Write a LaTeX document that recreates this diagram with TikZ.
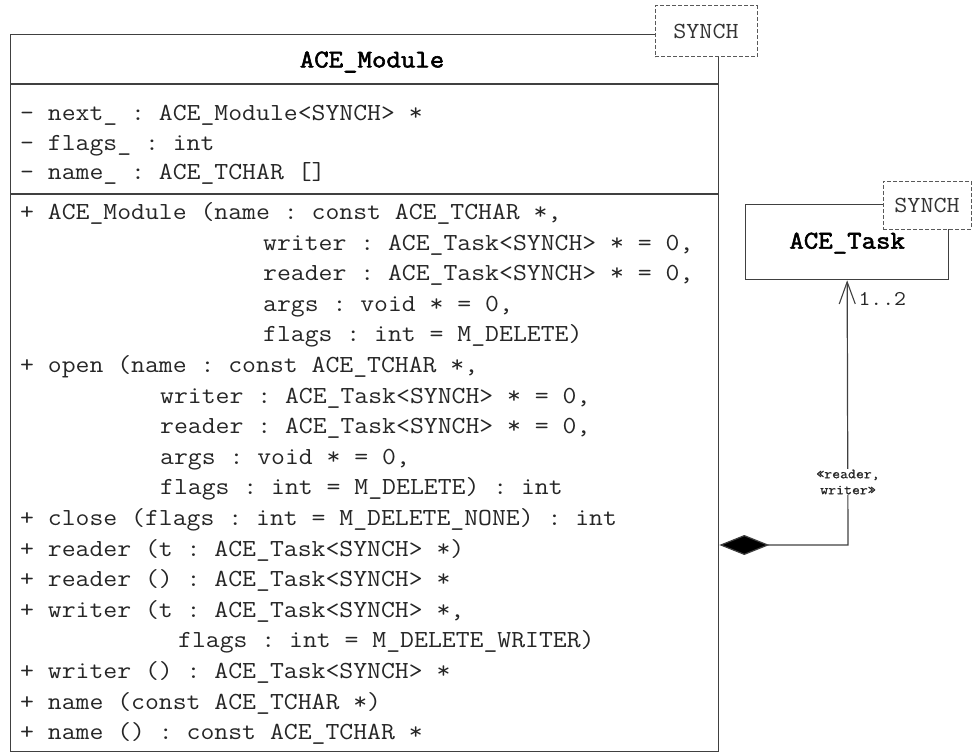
\documentclass[tikz,border=0pt]{standalone}
\usepackage{fontspec}
\setmonofont{Latin Modern Mono}[FakeStretch=1.1]
\newfontfamily\boldmono{Latin Modern Mono}[FakeStretch=1.1, FakeBold=2.2]
\newfontfamily\labelmono{Latin Modern Mono}[FakeStretch=1.1, FakeBold=0.8]
\usetikzlibrary{arrows.meta}
\begin{document}
\begin{tikzpicture}[x=1pt,y=-1pt,
  classbox/.style={draw=black!75, line width=1.3pt, fill=white, inner sep=0pt, anchor=north west},
  tparam/.style={draw=black!65, dashed, dash pattern=on 4pt off 2pt, line width=1pt, fill=white,
    inner sep=0pt, font=\ttfamily\fontsize{23}{23}\selectfont, text=black!80},
  member/.style={font=\ttfamily\fontsize{24.5}{24.5}\selectfont, anchor=base west, inner sep=0pt, text=black!85},
  title/.style={font=\boldmono\fontsize{25.5}{25.5}\selectfont, text=black},
  assoc/.style={draw=black!75, line width=1.2pt},
  smalllabel/.style={font=\labelmono\fontsize{14}{16}\selectfont, align=center, fill=white, inner sep=1pt, text=black!85}]
\useasboundingbox (0,0) rectangle (973,754);

% ACE_Module class with its three compartments
\node[classbox, minimum width=708pt, minimum height=717pt] (module) at (10,34) {};
\draw[draw=black!75, line width=1.3pt] (module.west |- 0,84) -- (module.east |- 0,84);
\draw[draw=black!75, line width=1.3pt] (module.west |- 0,194) -- (module.east |- 0,194);
\node[title] (modname) at (372,62) {ACE\_Module};

% attributes
\node[member] (a1) at (20,121) {- next\_ : ACE\_Module<SYNCH> *};
\node[member] (a2) at (20,150) {- flags\_ : int};
\node[member] (a3) at (20,179) {- name\_ : ACE\_TCHAR []};

% operations
\def\rowy#1{219.5+30.6*#1}
\node[member] (m0)  at (20,{\rowy{0}})  {+ ACE\_Module (name : const ACE\_TCHAR *,};
\node[member] (m1)  at (263,{\rowy{1}}) {writer : ACE\_Task<SYNCH> * = 0,};
\node[member] (m2)  at (263,{\rowy{2}}) {reader : ACE\_Task<SYNCH> * = 0,};
\node[member] (m3)  at (263,{\rowy{3}}) {args : void * = 0,};
\node[member] (m4)  at (263,{\rowy{4}}) {flags : int = M\_DELETE)};
\node[member] (m5)  at (20,{\rowy{5}})  {+ open (name : const ACE\_TCHAR *,};
\node[member] (m6)  at (160,{\rowy{6}}) {writer : ACE\_Task<SYNCH> * = 0,};
\node[member] (m7)  at (160,{\rowy{7}}) {reader : ACE\_Task<SYNCH> * = 0,};
\node[member] (m8)  at (160,{\rowy{8}}) {args : void * = 0,};
\node[member] (m9)  at (160,{\rowy{9}}) {flags : int = M\_DELETE) : int};
\node[member] (m10) at (20,{\rowy{10}}) {+ close (flags : int = M\_DELETE\_NONE) : int};
\node[member] (m11) at (20,{\rowy{11}}) {+ reader (t : ACE\_Task<SYNCH> *)};
\node[member] (m12) at (20,{\rowy{12}}) {+ reader () : ACE\_Task<SYNCH> *};
\node[member] (m13) at (20,{\rowy{13}}) {+ writer (t : ACE\_Task<SYNCH> *,};
\node[member] (m14) at (178,{\rowy{14}}) {flags : int = M\_DELETE\_WRITER)};
\node[member] (m15) at (20,{\rowy{15}}) {+ writer () : ACE\_Task<SYNCH> *};
\node[member] (m16) at (20,{\rowy{16}}) {+ name (const ACE\_TCHAR *)};
\node[member] (m17) at (20,{\rowy{17}}) {+ name () : const ACE\_TCHAR *};

% ACE_Task class
\node[classbox, minimum width=203pt, minimum height=75pt] (task) at (745,204) {};
\node[title] (taskname) at ([yshift=-1pt]task.center) {ACE\_Task};

% template parameter boxes
\node[tparam, minimum width=102pt, minimum height=51pt] (synchA) at (706,31.5) {SYNCH};
\node[tparam, minimum width=88pt, minimum height=48pt] (synchB) at (927,205) {SYNCH};

% composition: ACE_Module owns one or two ACE_Task objects
\coordinate (bend) at (848,545);
\draw[assoc, {Straight Barb[length=22pt, width=16pt, line width=1.1pt]}-{Diamond[length=50pt, width=20pt, fill=black]}]
  (task.south) -- (bend) -- (module.east |- bend);
\node[smalllabel] (role) at (848,482) {«reader,\\writer»};
\node[font=\ttfamily\fontsize{21}{21}\selectfont, text=black!85, anchor=west] (mult) at (855,299) {1..2};
\end{tikzpicture}
\end{document}
